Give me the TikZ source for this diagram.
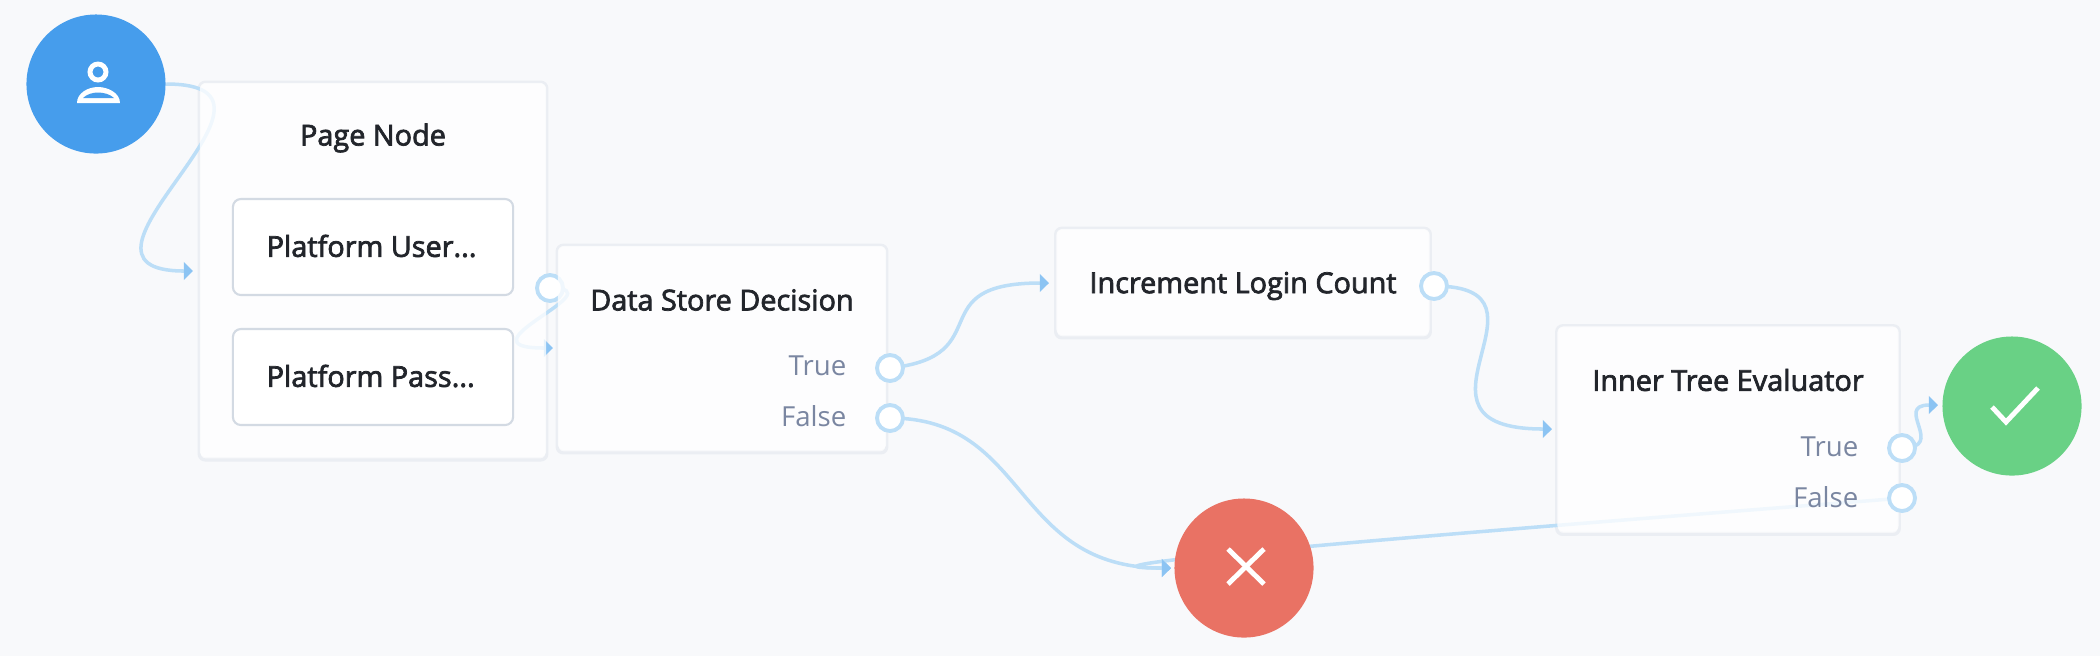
\documentclass[tikz,border=0pt]{standalone}
\usepackage{fontspec}
\setmainfont{Open Sans}
\newfontfamily\titlefont{Open Sans}[FakeBold=2.5]
\usetikzlibrary{arrows.meta}

\definecolor{canvas}{HTML}{F8F9FB}
\definecolor{wireblue}{HTML}{BCDEF7}
\definecolor{tipblue}{HTML}{8CC4F3}
\definecolor{edgegrey}{HTML}{D3DAE3}
\definecolor{shadegrey}{HTML}{EBEEF3}
\definecolor{titleink}{HTML}{22252B}
\definecolor{portink}{HTML}{7A86A1}
\definecolor{startblue}{HTML}{469DEC}
\definecolor{failred}{HTML}{E97264}
\definecolor{donegreen}{HTML}{69D185}

\pgfdeclarelayer{base}
\pgfdeclarelayer{wires}
\pgfsetlayers{base,wires,main}

\tikzset{
    card/.style = {rectangle, fill = white, fill opacity = 0.78, rounded corners = 0.6mm, inner sep = 0pt},
    inbox/.style = {rectangle, draw = edgegrey, line width = 0.6pt, fill = white, rounded corners = 0.8mm, inner sep = 0pt, minimum width = 2.8cm, minimum height = 0.96cm},
    cardshade/.style = {draw = shadegrey, line width = 0.9pt, rounded corners = 0.6mm},
    endpoint/.style = {circle, inner sep = 0pt, minimum size = 1.39cm},
    port/.style = {circle, draw = wireblue, line width = 1.1pt, fill = white, inner sep = 0pt, minimum size = 0.26cm},
    title/.style = {font = \titlefont\fontsize{8.2}{9}\selectfont, text = titleink, inner sep = 0pt},
    portlabel/.style = {font = \fontsize{7.85}{9}\selectfont, text = portink, inner sep = 0pt, anchor = east},
    wire/.style = {draw = wireblue, line width = 1pt, -{Triangle[length = 2.6pt, width = 5pt, color = tipblue]}},
    glyph/.style = {draw = white, line width = 1.4pt}
}

\begin{document}
\begin{tikzpicture}[x = 0.01cm, y = -0.01cm]
    \begin{pgfonlayer}{base}
        \fill [canvas] (0,0) rectangle (2100,656);
    \end{pgfonlayer}

    \node [endpoint, fill = startblue] (startnode) at (96,84) {};

    \node [card, minimum width = 3.46cm, minimum height = 3.74cm] (pagebox) at (373,270) {};
    \node [title] (pagetitle) at (373,138) {Page Node};
    \node [inbox] (userbox) at (373,247) {};
    \node [inbox] (passbox) at (373,377) {};
    \node [title, anchor = west] (usertitle) at (266,246) {Platform User...};
    \node [title, anchor = west] (passtitle) at (266,376) {Platform Pass...};
    \node [port] (pageport) at (550,288) {};

    \node [card, minimum width = 3.28cm, minimum height = 2.04cm] (storebox) at (722,348) {};
    \node [title] (storetitle) at (722,300) {Data Store Decision};
    \node [portlabel] (storetruelabel) at (847,366) {True};
    \node [portlabel] (storefalselabel) at (847,416) {False};
    \node [port] (storetrue) at (890,368) {};
    \node [port] (storefalse) at (890,418) {};

    \node [card, minimum width = 3.73cm, minimum height = 1.06cm] (countbox) at (1243,282) {};
    \node [title] (counttitle) at (1243,286) {Increment Login Count};
    \node [port] (countport) at (1434,286) {};

    \node [card, minimum width = 3.41cm, minimum height = 2.05cm] (treebox) at (1728,429) {};
    \node [title] (treetitle) at (1728,380) {Inner Tree Evaluator};
    \node [portlabel] (treetruelabel) at (1859,447) {True};
    \node [portlabel] (treefalselabel) at (1859,497) {False};
    \node [port] (treetrue) at (1902,448) {};
    \node [port] (treefalse) at (1902,498) {};

    \node [endpoint, fill = failred] (failnode) at (1244,568) {};
    \node [endpoint, fill = donegreen] (donenode) at (2012,406) {};

    \coordinate (pagein) at (193,271);
    \coordinate (storein) at (553,348);
    \coordinate (countin) at (1049,283);
    \coordinate (treein) at (1552,429);
    \coordinate (failin) at (1171,568);
    \coordinate (donein) at (1938,405);

    \begin{pgfonlayer}{base}
        \foreach \cardname in {pagebox, storebox, countbox, treebox}
            \draw [cardshade] ([yshift = -0.6pt]\cardname.south west) rectangle (\cardname.north east);
    \end{pgfonlayer}

    \begin{pgfonlayer}{wires}
        \draw [wire] (startnode.east) .. controls +(155,0) and +(-155,0) .. (pagein);
        \draw [wire] (pageport.center) .. controls +(70,0) and +(-100,0) .. (storein);
        \draw [wire] (storetrue.center) .. controls +(110,-12) and +(-130,0) .. (countin);
        \draw [wire] (storefalse.center) .. controls +(140,0) and +(-160,0) .. (failin);
        \draw [wire] (countport.center) .. controls +(135,0) and +(-165,0) .. (treein);
        \draw [wire] (treetrue.center) .. controls +(45,0) and +(-45,0) .. (donein);
        \draw [wire] (treefalse.center) .. controls +(10,0) and +(-200,0) .. (failin);
    \end{pgfonlayer}

    \draw [white, line width = 1.4pt] (98,72) circle (8);
    \fill [white] (77,103) .. controls (77,93) and (88,87) .. (98,87) .. controls (108,87) and (120,93) .. (120,103) -- cycle;
    \fill [startblue] (83,98) .. controls (87,94) and (93,92.5) .. (98,92.5) .. controls (103,92.5) and (110,94) .. (114,98) -- cycle;

    \draw [glyph] (1228,549) -- (1264,584);
    \draw [glyph] (1264,549) -- (1228,584);

    \draw [glyph] (1992,407) -- (2006,422) -- (2038,388);
\end{tikzpicture}
\end{document}
